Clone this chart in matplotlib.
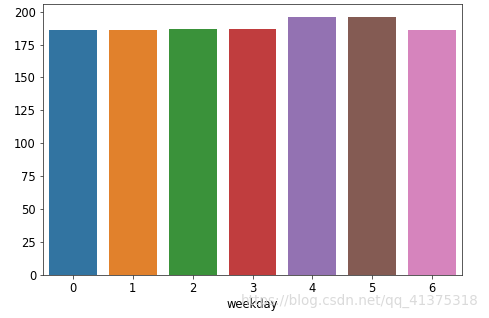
import matplotlib
matplotlib.use("Agg")
import matplotlib.pyplot as plt
import seaborn as sns

weekday = [0, 1, 2, 3, 4, 5, 6]
counts = [186, 186, 187, 187, 196, 196, 186]
yticks = [0, 25, 50, 75, 100, 125, 150, 175, 200]

fig = plt.figure(figsize=(489 / 72, 318 / 72), dpi=72)
ax = fig.add_axes([43 / 489, 43 / 318, 419 / 489, 271 / 318])

# seaborn default palette with its 0.75 saturation
colors = sns.color_palette("tab10", 7, desat=0.75)
ax.bar(weekday, counts, width=0.8, color=colors)

ax.set_xlim(-0.5, 6.5)
ax.set_ylim(0, max(counts) * 1.05)
ax.set_xticks(weekday)
ax.set_yticks(yticks)
ax.tick_params(labelsize=11.5, colors="#333333", labelcolor="black")
for s in ax.spines.values():
    s.set_color("#333333")
ax.set_xlabel("weekday", fontsize=11.5, labelpad=3)

# watermark from the original picture
fig.text(478 / 489, 1 - 301 / 318, "https://blog.csdn.net/qq_41375318",
         ha="right", va="center", fontsize=13.5, color="#d4d4d4", alpha=0.85)

fig.savefig("out.png", dpi=72)
